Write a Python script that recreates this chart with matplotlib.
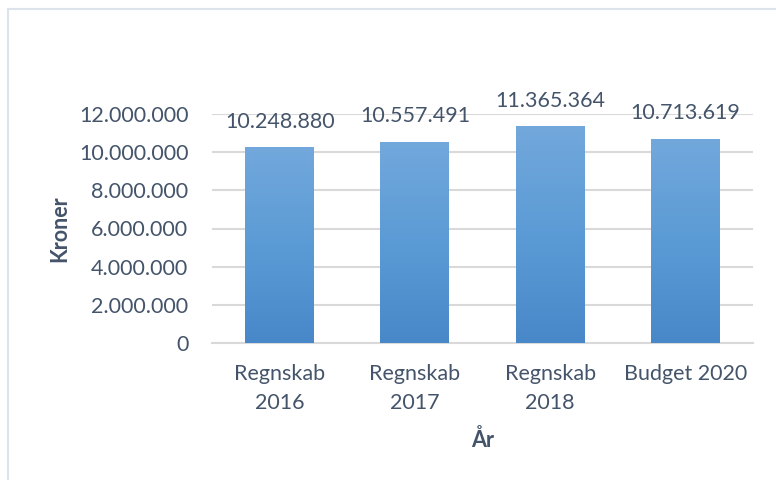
import numpy as np
from matplotlib import pyplot as plt
from matplotlib.colors import LinearSegmentedColormap
from matplotlib.patches import Rectangle

categories = ["Regnskab\n2016", "Regnskab\n2017", "Regnskab\n2018", "Budget 2020"]
values = [10248880, 10557491, 11365364, 10713619]
value_labels = ["10.248.880", "10.557.491", "11.365.364", "10.713.619"]
y_ticks = [0, 2000000, 4000000, 6000000, 8000000, 10000000, 12000000]
y_tick_labels = ["0", "2.000.000", "4.000.000", "6.000.000", "8.000.000",
                 "10.000.000", "12.000.000"]

text_color = "#44546a"
grid_color = "#d9d9d9"
fs = 15.5
plt.rcParams['font.family'] = ['Lato', 'DejaVu Sans']

fig = plt.figure(figsize=(7.76, 4.8), dpi=100)
# chart frame
fig.patches.append(Rectangle((8 / 776, -0.1), 1.0, 1 - 9 / 480 + 0.1,
                             transform=fig.transFigure, fill=False,
                             edgecolor="#dde3ea", linewidth=1.5))

ax = fig.add_axes([212 / 776, 1 - 343 / 480, 541 / 776, (343 - 114) / 480])
x = np.arange(len(categories))
width = 0.51
bars = ax.bar(x, values, width=width, color="none", zorder=3)

cmap = LinearSegmentedColormap.from_list("grad", ["#4888c9", "#5b9bd5", "#72a8dc"])
grad = np.linspace(0, 1, 256).reshape(-1, 1)
for b in bars:
    x0, y0, w, h = b.get_x(), b.get_y(), b.get_width(), b.get_height()
    im = ax.imshow(grad, cmap=cmap, origin="lower", aspect="auto",
                   extent=[x0, x0 + w, y0, y0 + h], zorder=3)
    im.set_clip_path(b)

for xi, v, lab in zip(x, values, value_labels):
    ax.annotate(lab, (xi, v), xytext=(0, 11), textcoords="offset points",
                ha="center", va="bottom", fontsize=fs, color=text_color)

ax.set_xlim(-0.5, len(categories) - 0.5)
ax.set_ylim(0, 12000000)
ax.set_yticks(y_ticks)
ax.set_yticklabels(y_tick_labels)
ax.set_xticks(x)
ax.set_xticklabels(categories, linespacing=1.55)
ax.tick_params(axis="both", length=0, labelsize=fs, labelcolor=text_color)
ax.tick_params(axis="y", pad=17)
ax.tick_params(axis="x", pad=15)
ax.yaxis.grid(True, color=grid_color, linewidth=1.5, zorder=0)
for s in ["top", "right", "left"]:
    ax.spines[s].set_visible(False)
ax.spines["bottom"].set_color(grid_color)
ax.spines["bottom"].set_linewidth(1.5)
ax.set_facecolor("none")

ax.set_ylabel("Kroner", fontsize=fs, fontweight="bold", color=text_color, labelpad=6)
ax.set_xlabel("År", fontsize=fs, fontweight="bold", color=text_color, labelpad=12)

fig.savefig("out.png", dpi=100)
